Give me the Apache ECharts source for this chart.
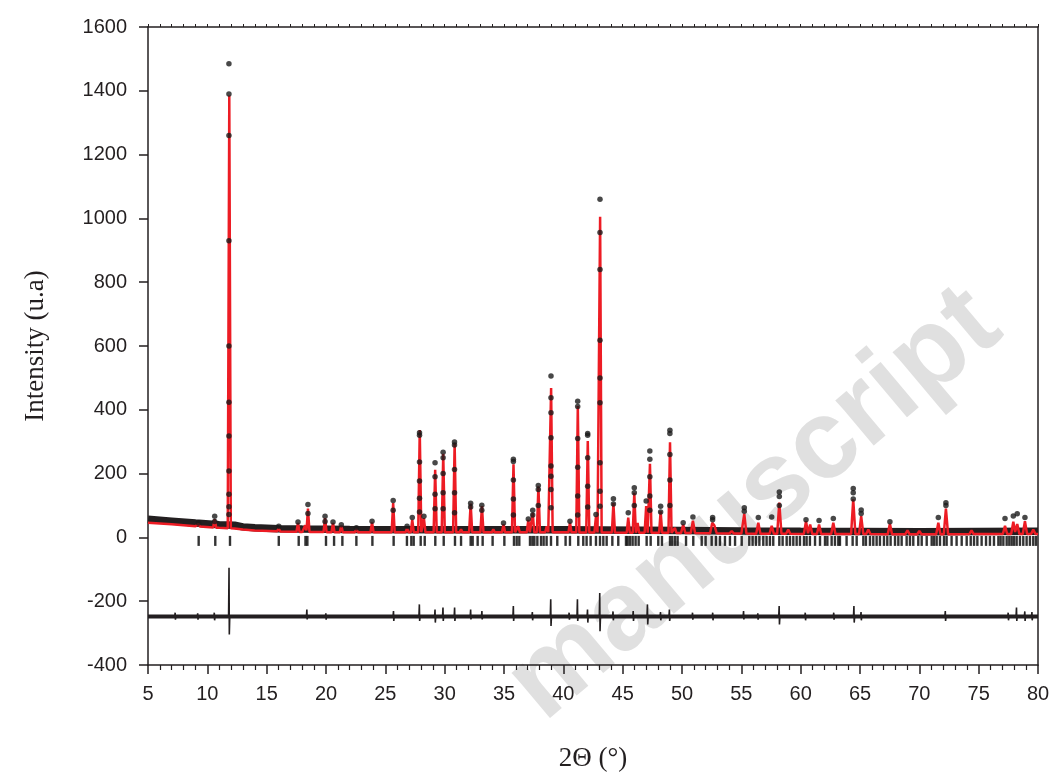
<!DOCTYPE html>
<html><head><meta charset="utf-8">
<script src="https://cdn.jsdelivr.net/npm/echarts@6/dist/echarts.min.js"></script>
<style>html,body{margin:0;padding:0;background:#fff}#c{width:1056px;height:783px}</style>
</head><body><div id="c"></div>
<script>
// ---- data ----
const xTickLabels = [5,10,15,20,25,30,35,40,45,50,55,60,65,70,75,80];
const yTickLabels = [-400,-200,0,200,400,600,800,1000,1200,1400,1600];

// calculated background (x, intensity)
const bgX = [5,7,9,11,12.3,13,14,16,18,22,30,40,50,55,60,70,80];
const bgY = [46,41,35,30,28,25,22,19,17,16,16,16,14,12,11,10,11];

// observed background band (x, intensity)
const obsBgX = [5,7,9,11,12.3,13,14,16,18,22,30,40,50,55,60,70,80];
const obsBgY = [57,51,45,40,38,33,30,27,26,25,24,24,22,20,19,18,19];

// calculated peaks: position (2θ) and top intensity
const peakPos = [9.25,10.62,11.85,16.02,17.64,18.25,18.48,19.92,20.59,21.29,22.56,23.88,25.66,26.83,27.27,27.90,28.25,29.20,29.88,30.84,31.38,32.19,33.14,34.1,34.96,35.80,36.2,37.05,37.42,37.90,38.6,38.97,40.56,41.22,42.06,42.75,43.10,44.22,45.47,45.98,46.26,46.98,47.30,48.2,48.99,49.4,50.1,50.92,52.55,52.75,54.19,55.25,56.43,57.56,58.2,58.95,60.45,60.8,61.55,62.75,64.43,65.1,65.7,67.52,69.0,70.0,71.6,72.24,74.4,77.22,77.92,78.25,78.9,79.6];
const calcTop = [42,57,1385,30,45,38,90,60,45,36,26,47,108,28,55,337,60,212,262,295,25,106,98,25,41,229,35,55,77,160,35,468,46,412,302,66,1005,108,62,140,45,98,231,82,298,30,40,52,46,40,20,74,46,36,109,25,51,40,40,46,119,67,25,43,22,20,46,90,22,36,49,42,51,25];

// observed points on peaks: position and intensities
const obsPeakDots = [
 [9.25,[45]],[10.62,[66,50]],
 [11.82,[1485,1390,1260,930,600,424,318,208,135,96,72]],
 [16.02,[35]],[17.64,[48]],[18.48,[103,75]],[19.92,[66,50]],[20.59,[48]],[21.29,[40]],
 [22.56,[30]],[23.88,[51]],[25.66,[116,85]],[26.83,[35]],[27.27,[62]],
 [27.88,[328,320,236,177,123,80]],[28.25,[66]],[29.19,[234,190,135,90]],
 [29.87,[267,250,200,140,90]],[30.83,[299,290,213,140,77]],[32.19,[107,95]],
 [33.13,[101,85]],[34.96,[45]],[35.79,[245,238,180,120,70]],[37.05,[58]],
 [37.42,[85,70]],[37.89,[163,150,100]],[38.96,[506,438,391,312,224,192,150,93]],
 [40.56,[51]],[41.21,[427,410,310,220,130,70]],[42.05,[326,320,250,160,95]],
 [42.75,[72]],[43.09,[1060,956,840,618,500,422,234,145,98]],[44.22,[121,105]],
 [45.47,[77]],[45.98,[156,140,100]],[46.98,[114]],[47.29,[271,245,190,130,85]],
 [48.2,[98,80]],[48.98,[336,326,260,180,100]],[50.1,[46]],[50.92,[64]],
 [52.58,[62,55]],[55.25,[93,82]],[56.43,[62]],[57.56,[64]],[58.2,[142,128,100]],
 [60.45,[55]],[61.55,[53]],[62.75,[59]],[64.43,[153,140,120]],[65.1,[86,75]],
 [67.52,[49]],[71.6,[62]],[72.24,[109,100]],[77.22,[59]],[77.92,[67]],
 [78.25,[74]],[78.9,[62]]
];

// Bragg reflection positions
const braggPos = [9.27,10.67,11.91,16.02,17.70,18.27,18.43,20.00,20.68,21.38,22.56,23.91,25.70,26.82,27.19,27.39,27.98,28.32,29.21,29.92,
 30.87,31.38,32.19,32.36,32.78,33.20,34.04,35.03,35.84,36.07,36.29,37.19,37.39,37.56,37.81,38.12,38.34,38.59,38.96,39.49,40.19,40.56,41.26,41.68,41.96,42.3,42.75,43.09,43.37,43.65,44.13,44.63,45.28,45.42,45.62,45.84,46.09,46.35,47.02,47.36,48.0,48.31,48.99,49.18,49.41,49.63,50.34,50.95,51.66,51.99,52.5,52.86,53.2,53.62,54.04,54.47,
 55.03,55.67,55.95,56.23,56.52,56.85,57.13,57.41,57.69,58.2,58.48,58.82,59.1,59.38,59.66,59.94,60.28,60.5,60.78,61.21,61.63,62.05,62.25,62.61,62.89,63.17,63.31,63.87,64.38,64.72,65.28,65.5,65.84,66.12,66.4,66.68,67.02,67.3,67.58,67.95,68.23,68.51,68.93,69.21,69.49,69.91,70.2,70.62,71.04,71.24,71.46,71.74,72.08,72.3,72.72,73.14,73.57,73.99,74.33,74.61,74.89,75.25,75.62,75.95,76.29,76.66,76.85,77.08,77.36,77.58,77.78,77.98,78.2,78.48,78.76,79.04,79.32,79.6,79.83];
const braggLevel = -11;

// difference curve: base level and spikes (position, upper, lower)
const diffBase = -248;
const diffPos  = [7.3,9.2,10.6,11.84,18.4,20.0,25.7,27.88,29.2,29.87,30.85,32.2,33.15,35.8,37.4,38.95,40.5,41.2,42.05,43.08,44.2,45.9,47.1,48.2,48.95,50.9,52.6,55.2,56.4,58.2,60.4,62.8,64.5,65.1,72.2,77.5,78.2,78.9,79.5];
const diffUp   = [-236,-238,-236,-95,-226,-238,-231,-210,-226,-220,-220,-226,-231,-215,-234,-194,-236,-194,-226,-174,-232,-231,-210,-234,-226,-236,-236,-231,-238,-215,-236,-236,-215,-234,-231,-236,-220,-232,-234];
const diffDown = [-258,-258,-260,-304,-257,-258,-262,-262,-267,-262,-262,-257,-257,-262,-260,-278,-258,-262,-267,-294,-260,-262,-273,-260,-262,-258,-260,-257,-258,-273,-260,-258,-267,-260,-262,-260,-262,-262,-260];

// ---- build series data ----
function bgAt(x){
  for(let i=0;i<bgX.length-1;i++){
    if(x<=bgX[i+1]){const t=(x-bgX[i])/(bgX[i+1]-bgX[i]);return bgY[i]+t*(bgY[i+1]-bgY[i]);}
  }
  return bgY[bgY.length-1];
}
const halfW = p => p < 50 ? 0.13 : 0.18;
const xs = new Set(bgX);
peakPos.forEach(p=>{const w=halfW(p);xs.add(+(p-w).toFixed(4));xs.add(p);xs.add(+(p+w).toFixed(4));});
const calcData = [...xs].filter(x=>x>=5&&x<=80).sort((a,b)=>a-b).map(x=>{
  let y=bgAt(x);
  peakPos.forEach((p,i)=>{const w=halfW(p);const h=calcTop[i]-bgAt(p);const d=Math.abs(x-p);if(d<w)y+=h*(1-d/w);});
  return [x,y];
});
const obsBand = obsBgX.map((x,i)=>[x,obsBgY[i]]);
const obsDots = [];
obsPeakDots.forEach(([x,ys])=>ys.forEach(y=>obsDots.push([x,y])));
const braggData = braggPos.map(x=>[x,braggLevel]);
const diffBand = [[5,diffBase],[80,diffBase]];
const diffData = [[5,diffBase]];
diffPos.forEach((p,i)=>{
  diffData.push([p-0.05,diffBase],[p-0.012,diffUp[i]],[p+0.012,diffDown[i]],[p+0.05,diffBase]);
});
diffData.push([80,diffBase]);

// ---- chart ----
const ink = '#231f20';
const axisLine = {show:true,onZero:false,lineStyle:{color:ink,width:1.5}};
const chart = echarts.init(document.getElementById('c'),null,{renderer:'canvas'});
chart.setOption({
  animation:false,
  backgroundColor:'#ffffff',
  grid:{left:148,right:18,top:27,bottom:118,outerBoundsMode:'none',containLabel:false},
  graphic:[{type:'text',x:755,y:505,rotation:0.70,z:0,silent:true,
    style:{text:'manuscript',font:'bold 112px "Liberation Sans", Arial, sans-serif',fill:'#e0e0e0',align:'center',verticalAlign:'middle'}}],
  xAxis:[{type:'value',min:5,max:80,interval:5,position:'bottom',
     axisLine:axisLine,
     axisTick:{show:true,length:9,lineStyle:{color:ink,width:1.5}},
     minorTick:{show:true,splitNumber:5,length:5,lineStyle:{color:ink,width:1.2}},
     splitLine:{show:false},
     axisLabel:{fontFamily:'Liberation Sans',fontSize:20,color:ink,margin:19,
       formatter:v=>xTickLabels.includes(v)?String(v):''},
     name:'2Θ (°)',nameLocation:'middle',nameGap:80,
     nameTextStyle:{fontFamily:'Liberation Serif',fontSize:27,color:ink}},
    {type:'value',min:5,max:80,interval:5,position:'top',
     axisLine:axisLine,
     axisTick:{show:true,length:3,lineStyle:{color:ink,width:1}},
     minorTick:{show:true,splitNumber:5,length:3,lineStyle:{color:ink,width:1}},
     splitLine:{show:false},axisLabel:{show:false}}],
  yAxis:[{type:'value',min:-400,max:1600,interval:200,
     axisLine:axisLine,
     axisTick:{show:true,length:9,lineStyle:{color:ink,width:1.5}},
     splitLine:{show:false},
     axisLabel:{fontFamily:'Liberation Sans',fontSize:20,color:ink,margin:21,
       formatter:v=>yTickLabels.includes(v)?String(v):''},
     name:'Intensity (u.a)',nameLocation:'middle',nameGap:99,nameRotate:90,
     nameTextStyle:{fontFamily:'Liberation Serif',fontSize:27,color:ink}},
    {type:'value',min:-400,max:1600,interval:200,position:'right',
     axisLine:axisLine,axisTick:{show:false},axisLabel:{show:false},splitLine:{show:false}}],
  series:[
    {type:'line',name:'obs-band',data:obsBand,showSymbol:false,z:1,silent:true,
     lineStyle:{color:ink,width:7.5}},
    {type:'line',name:'calc',data:calcData,showSymbol:false,z:3,silent:true,
     lineStyle:{color:'#ed1c24',width:2.5}},
    {type:'scatter',name:'obs',data:obsDots,symbol:'circle',symbolSize:5.5,z:4,silent:true,
     itemStyle:{color:'#1a1a1a'}},
    {type:'scatter',name:'bragg',data:braggData,symbol:'rect',symbolSize:[2.4,10],z:2,silent:true,
     itemStyle:{color:'#000'}},
    {type:'line',name:'diff-band',data:diffBand,showSymbol:false,z:2,silent:true,
     lineStyle:{color:ink,width:4}},
    {type:'line',name:'diff',data:diffData,showSymbol:false,z:2,silent:true,
     lineStyle:{color:ink,width:1.6}}
  ]
});
</script></body></html>
